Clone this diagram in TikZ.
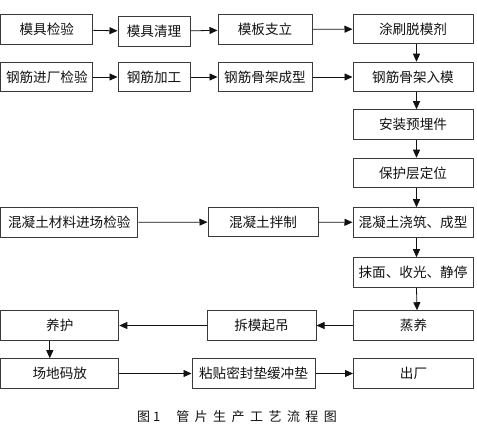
\documentclass[tikz,border=0pt]{standalone}
\usepackage{fontspec}
\usepackage{tikz}
\usetikzlibrary{arrows.meta}
\newfontfamily\cjk{Noto Sans CJK SC}
\newfontfamily\cjkcap[LetterSpace=42]{Noto Sans CJK SC}
\definecolor{FlowEdge}{HTML}{3A3A3A}
\definecolor{FlowInk}{HTML}{111111}

\begin{document}
\begin{tikzpicture}[x=1pt,y=-1pt,
  stepbox/.style={draw=FlowEdge,line width=1pt,minimum height=29.5pt,inner sep=0pt,
    text=FlowInk,font=\cjk\fontsize{13.6}{14}\selectfont},
  flowarr/.style={draw=FlowInk,line width=0.8pt,-{Triangle[length=8pt,width=7pt]}}]
  \useasboundingbox (0,0) rectangle (477,430);
  % first two rows
  \node[stepbox,minimum width=92pt] (mjjy) at (46.8,29.5) {模具检验};
  \node[stepbox,minimum width=72pt] (mjql) at (154,31.5) {模具清理};
  \node[stepbox,minimum width=94pt] (mbzl) at (265,29.5) {模板支立};
  \node[stepbox,minimum width=120pt] (tsjmj) at (413,29) {涂刷脱模剂};
  \node[stepbox,minimum width=92pt] (gjjc) at (46.8,77) {钢筋进厂检验};
  \node[stepbox,minimum width=72pt] (gjjg) at (154,77) {钢筋加工};
  \node[stepbox,minimum width=94pt] (gjcx) at (265,77) {钢筋骨架成型};
  \node[stepbox,minimum width=120pt] (gjrm) at (413,77) {钢筋骨架入模};
  % right column
  \node[stepbox,minimum width=120pt] (azyml) at (413,124.5) {安装预埋件};
  \node[stepbox,minimum width=120pt] (bhcdw) at (413,173) {保护层定位};
  \node[stepbox,minimum width=120pt] (jzcx) at (413,222.5) {混凝土浇筑、成型};
  \node[stepbox,minimum width=120pt] (mmsg) at (413,272.5) {抹面、收光、静停};
  \node[stepbox,minimum width=120pt] (zy) at (413.5,325.5) {蒸养};
  \node[stepbox,minimum width=120pt] (cc) at (413.5,373.5) {出厂};
  % concrete
  \node[stepbox,minimum width=137pt] (hntjy) at (69.3,222.5) {混凝土材料进场检验};
  \node[stepbox,minimum width=110pt] (hntbz) at (263,222) {混凝土拌制};
  % bottom rows
  \node[stepbox,minimum width=109pt] (cmdq) at (261.5,325.5) {拆模起吊};
  \node[stepbox,minimum width=118pt] (yh) at (59.8,325.5) {养护};
  \node[stepbox,minimum width=118pt] (cdmf) at (59.8,373.5) {场地码放};
  \node[stepbox,minimum width=123pt] (ztmf) at (253.5,373.5) {粘贴密封垫缓冲垫};
  \node[font=\cjkcap\fontsize{13}{14}\selectfont,text=FlowInk] (caption) at (237,417) {图\hspace{3pt}1\hspace{16pt}管片生产工艺流程图};

  \foreach \a/\b in {mjjy/mjql,mjql/mbzl,mbzl/tsjmj,gjjc/gjjg,gjjg/gjcx,gjcx/gjrm,
    hntjy/hntbz,hntbz/jzcx,zy/cmdq,cmdq/yh,cdmf/ztmf,ztmf/cc}
    \draw[flowarr] (\a) -- (\b);
  \foreach \a/\b in {tsjmj/gjrm,gjrm/azyml,azyml/bhcdw,bhcdw/jzcx,jzcx/mmsg,mmsg/zy}
    \draw[flowarr] ([xshift=3.5pt]\a.south) -- ([xshift=3.5pt]\b.north);
  \draw[flowarr] ([xshift=-10pt]yh.south) -- ([xshift=-10pt]yh.south |- cdmf.north);
\end{tikzpicture}
\end{document}
